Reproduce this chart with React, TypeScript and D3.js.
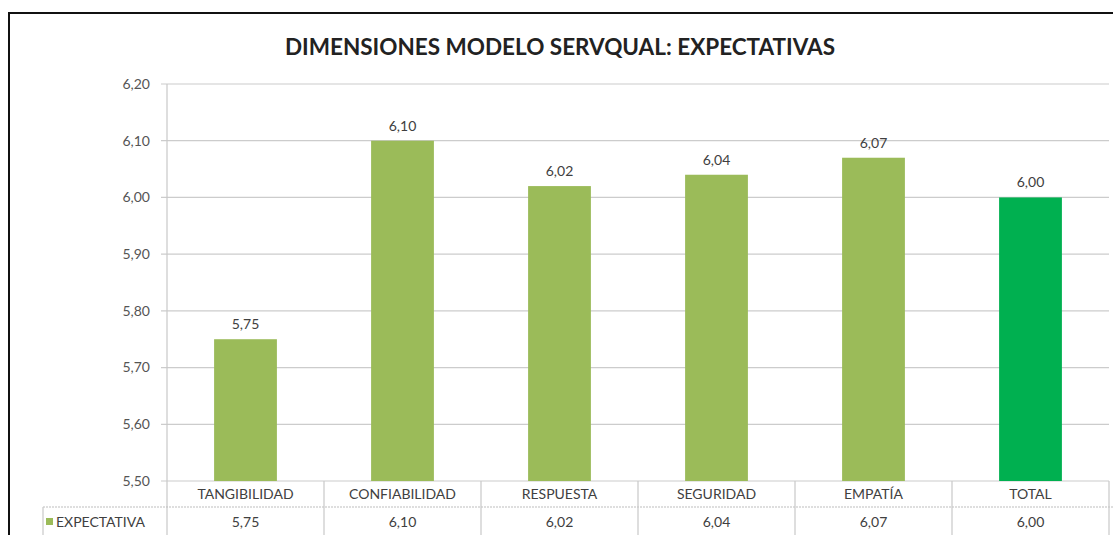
import React from "react";
import * as d3 from "d3";

const categories = ["TANGIBILIDAD", "CONFIABILIDAD", "RESPUESTA", "SEGURIDAD", "EMPATÍA", "TOTAL"];
const expectativa = [5.75, 6.1, 6.02, 6.04, 6.07, 6.0];
const barColors = ["#9bbb59", "#9bbb59", "#9bbb59", "#9bbb59", "#9bbb59", "#00b050"];
const yTicks = [5.5, 5.6, 5.7, 5.8, 5.9, 6.0, 6.1, 6.2];
const seriesName = "EXPECTATIVA";
const title = "DIMENSIONES MODELO SERVQUAL: EXPECTATIVAS";

const W = 1113;
const H = 535;
const font = "Lato, 'Open Sans', sans-serif";

const fmt = d3.formatLocale({ decimal: ",", thousands: ".", grouping: [3], currency: ["", ""] }).format(".2f");

export default function App() {
  // plot area (Excel style chart with a data table underneath)
  const left = 167;
  const right = 1109;
  const top = 84;
  const bottom = 481;
  const rowLine = 507;

  const x = d3.scaleBand().domain(categories).range([left, right]).paddingInner(0.6).paddingOuter(0.3);
  const y = d3.scaleLinear().domain([5.5, 6.2]).range([bottom, top]);
  const colW = (right - left) / categories.length;
  const colLeft = (i: number) => left + i * colW;
  const colCenter = (i: number) => colLeft(i) + colW / 2;

  return (
    <svg width={W} height={H} style={{ position: "absolute", left: 0, top: 0, background: "#fff" }}>
      {/* chart frame, runs off the right and bottom edges */}
      <rect x={9} y={13} width={W + 20} height={H + 20} fill="#fff" stroke="#111" strokeWidth={2} />

      <text x={560} y={55} textAnchor="middle" fontFamily={font} fontWeight={700} fontSize={22.5} fill="#222">
        {title}
      </text>

      {/* gridlines + y ticks */}
      {yTicks.map((t) => (
        <g key={t}>
          <line x1={left - 6} x2={right} y1={y(t)} y2={y(t)} stroke="#cccccc" strokeWidth={1.2} />
          <text x={150} y={y(t)} dy="0.35em" textAnchor="end" fontFamily={font} fontSize={14} fill="#555">
            {fmt(t)}
          </text>
        </g>
      ))}

      {/* bars */}
      {categories.map((c, i) => (
        <g key={c}>
          <rect
            x={colCenter(i) - x.bandwidth() / 2}
            y={y(expectativa[i])}
            width={x.bandwidth()}
            height={bottom - y(expectativa[i])}
            fill={barColors[i]}
          />
          <text x={colCenter(i)} y={y(expectativa[i]) - 10} textAnchor="middle" fontFamily={font} fontSize={14} fill="#404040">
            {fmt(expectativa[i])}
          </text>
        </g>
      ))}

      {/* y axis line */}
      <line x1={left} x2={left} y1={top} y2={H} stroke="#c8c8c8" strokeWidth={1.2} />

      {/* data table */}
      <line x1={43} x2={W} y1={rowLine} y2={rowLine} stroke="#bdbdbd" strokeWidth={1} strokeDasharray="2,1" />
      <line x1={43} x2={43} y1={rowLine} y2={H} stroke="#c8c8c8" strokeWidth={1.2} />
      {categories.map((c, i) => (
        <g key={"col" + c}>
          {i > 0 && <line x1={colLeft(i)} x2={colLeft(i)} y1={bottom} y2={H} stroke="#c8c8c8" strokeWidth={1.2} />}
          <text x={colCenter(i)} y={494} dy="0.35em" textAnchor="middle" fontFamily={font} fontSize={14} fill="#404040">
            {c}
          </text>
          <text x={colCenter(i)} y={522} dy="0.35em" textAnchor="middle" fontFamily={font} fontSize={14} fill="#404040">
            {fmt(expectativa[i])}
          </text>
        </g>
      ))}
      <line x1={right} x2={right} y1={bottom} y2={H} stroke="#c8c8c8" strokeWidth={1.2} />
      <rect x={46} y={518} width={7} height={7} fill={barColors[0]} />
      <text x={56} y={522} dy="0.35em" fontFamily={font} fontSize={14} fill="#404040">
        {seriesName}
      </text>
    </svg>
  );
}
